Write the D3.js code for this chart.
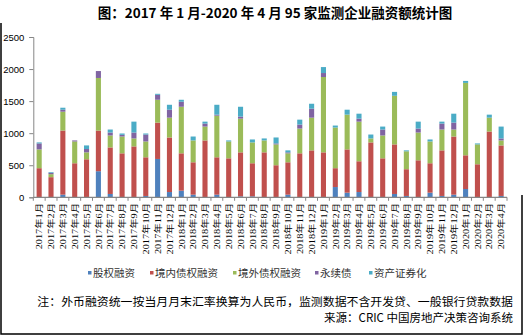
<!DOCTYPE html>
<html>
<head>
<meta charset="utf-8">
<script src="https://cdn.jsdelivr.net/npm/d3@7/dist/d3.min.js"></script>
<style>
  html, body { margin: 0; padding: 0; background: #fff; }
  svg { display: block; }
</style>
</head>
<body>
<svg id="chart" width="525" height="336"></svg>
<script>
// Months, 2017-01 .. 2020-04
const months = [
  "2017年1月","2017年2月","2017年3月","2017年4月","2017年5月","2017年6月",
  "2017年7月","2017年8月","2017年9月","2017年10月","2017年11月","2017年12月",
  "2018年1月","2018年2月","2018年3月","2018年4月","2018年5月","2018年6月",
  "2018年7月","2018年8月","2018年9月","2018年10月","2018年11月","2018年12月",
  "2019年1月","2019年2月","2019年3月","2019年4月","2019年5月","2019年6月",
  "2019年7月","2019年8月","2019年9月","2019年10月","2019年11月","2019年12月",
  "2020年1月","2020年2月","2020年3月","2020年4月"
];

// Financing amounts (亿元) by channel
const equity = [
  0,0,41,0,0,407,52,0,0,21,598,82,
  103,41,0,41,0,15,15,0,0,41,0,0,
  0,160,72,82,0,0,52,21,0,72,21,41,
  129,0,0,21
];
const domesticDebt = [
  454,314,1000,531,593,634,726,686,794,603,567,851,
  583,505,887,583,608,686,516,701,500,505,686,732,
  701,294,675,480,856,608,773,417,577,459,711,907,
  526,515,1026,788
];
const overseasDebt = [
  293,47,294,340,108,820,186,262,124,247,356,309,
  726,341,216,649,263,526,325,186,325,140,386,510,
  1175,634,542,618,62,356,758,279,433,340,325,109,
  1129,310,216,78
];
const perpetual = [
  93,20,31,16,52,108,46,26,92,108,77,124,
  78,0,47,16,0,31,0,0,15,15,62,140,
  62,0,0,47,0,93,0,0,62,0,93,108,
  0,0,0,31
];
const abs = [
  16,11,31,0,56,0,47,21,170,16,16,77,
  31,61,30,154,16,154,46,31,93,31,77,77,
  93,31,77,77,61,46,61,15,108,31,30,139,
  31,15,47,185
];

const seriesNames = ["股权融资","境内债权融资","境外债权融资","永续债","资产证券化"];
const seriesData = [equity, domesticDebt, overseasDebt, perpetual, abs];
const colors = ["#4F81BD","#C0504D","#9BBB59","#8064A2","#4BACC6"];
const yTicks = [0, 500, 1000, 1500, 2000, 2500];

const svg = d3.select("#chart");

// Frame
svg.append("path")
  .attr("d", "M1,23 V334 H522 V195")
  .attr("fill", "none")
  .attr("stroke", "#000")
  .attr("stroke-width", 1.5);

// Title
svg.append("text")
  .attr("x", 275).attr("y", 18)
  .attr("text-anchor", "middle")
  .attr("font-family", "'Noto Sans CJK SC', 'Liberation Sans', sans-serif")
  .attr("font-weight", "bold")
  .attr("font-size", 13.5)
  .attr("fill", "#000")
  .text("图：2017 年 1 月-2020 年 4 月 95 家监测企业融资额统计图");

const x = d3.scaleBand()
  .domain(months)
  .range([33.3, 507])
  .paddingInner(0.57)
  .paddingOuter(0.28);

const y = d3.scaleLinear().domain([0, 2500]).range([197.3, 37]);

// Stack the series
const rows = months.map((m, i) => {
  const r = { month: m };
  seriesNames.forEach((s, k) => r[s] = seriesData[k][i]);
  return r;
});
const stacked = d3.stack().keys(seriesNames)(rows);

const g = svg.append("g");
g.selectAll("g.series")
  .data(stacked)
  .join("g")
  .attr("class", "series")
  .attr("fill", (d, i) => colors[i])
  .selectAll("rect")
  .data(d => d.filter(p => p[1] - p[0] > 0))
  .join("rect")
  .attr("x", d => x(d.data.month))
  .attr("width", x.bandwidth())
  .attr("y", d => y(d[1]))
  .attr("height", d => y(d[0]) - y(d[1]));

// Y axis
const yAxis = svg.append("g")
  .attr("transform", "translate(33.3,0)")
  .call(d3.axisLeft(y).tickValues(yTicks).tickSize(4).tickPadding(5).tickFormat(d3.format("d")));
yAxis.select(".domain").attr("stroke", "#868686");
yAxis.selectAll(".tick line").attr("stroke", "#868686");
yAxis.selectAll("text")
  .attr("font-family", "'Liberation Sans', Arial, sans-serif")
  .attr("font-size", 9.5)
  .attr("fill", "#000");

// X axis: baseline with ticks at band boundaries
const step = x.step();
const x0 = 33.3;
const boundaries = d3.range(months.length + 1).map(i => x0 + i * (507 - x0) / months.length);
svg.append("line")
  .attr("x1", 33.3).attr("x2", 507)
  .attr("y1", y(0)).attr("y2", y(0))
  .attr("stroke", "#868686").attr("stroke-width", 1.2);
svg.append("g").selectAll("line")
  .data(boundaries)
  .join("line")
  .attr("x1", d => d).attr("x2", d => d)
  .attr("y1", y(0)).attr("y2", y(0) + 3.5)
  .attr("stroke", "#868686");

// Month labels, rotated
svg.append("g").selectAll("text")
  .data(months)
  .join("text")
  .attr("transform", d => `translate(${x(d) + x.bandwidth() / 2 + 3.2},203) rotate(-90) scale(1,0.75)`)
  .attr("text-anchor", "end")
  .attr("font-family", "'Liberation Serif', 'Noto Sans CJK SC', serif")
  .attr("font-size", 10.3)
  .attr("fill", "#000")
  .text(d => d);

// Legend
const legendX = [88, 150, 233, 315, 369];
const legend = svg.append("g");
seriesNames.forEach((name, i) => {
  legend.append("rect")
    .attr("x", legendX[i]).attr("y", 271)
    .attr("width", 3.5).attr("height", 3.5)
    .attr("fill", colors[i]);
  legend.append("text")
    .attr("x", legendX[i] + 5).attr("y", 277)
    .attr("font-family", "'Noto Sans CJK SC', sans-serif")
    .attr("font-size", 10.5)
    .attr("fill", "#333")
    .text(name);
});

// Notes
svg.append("text")
  .attr("x", 513).attr("y", 306)
  .attr("text-anchor", "end")
  .attr("font-family", "'Noto Sans CJK SC', sans-serif")
  .attr("font-size", 11.9)
  .attr("fill", "#000")
  .text("注：外币融资统一按当月月末汇率换算为人民币，监测数据不含开发贷、一般银行贷款数据");
svg.append("text")
  .attr("x", 513).attr("y", 322)
  .attr("text-anchor", "end")
  .attr("font-family", "'Noto Sans CJK SC', sans-serif")
  .attr("font-size", 11.5)
  .attr("fill", "#000")
  .text("来源：CRIC 中国房地产决策咨询系统");
</script>
</body>
</html>
